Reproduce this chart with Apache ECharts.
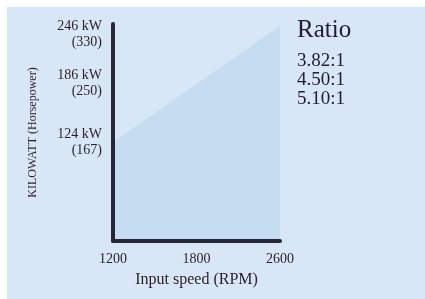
<!DOCTYPE html>
<html>
<head>
<meta charset="utf-8">
<script src="https://cdn.jsdelivr.net/npm/echarts@6/dist/echarts.min.js"></script>
<style>
    html, body { margin: 0; padding: 0; background: #fff; }
    #chart { width: 425px; height: 299px; }
</style>
</head>
<body>
<div id="chart"></div>
<script>
// Input speed categories (RPM)
const speeds = ['1200', '1800', '2600'];
// Upper edge of the shaded power band (kW)
const powerKw = [124, 185, 246];
// Y axis tick values and their labels
const kwTicks = [124, 186, 246];
const hpTicks = [167, 250, 330];
// Ratio list
const ratios = ['3.82:1', '4.50:1', '5.10:1'];

const serif = '"Liberation Serif", "DejaVu Serif", serif';
const ink = '#2b1d29';

const chart = echarts.init(document.getElementById('chart'));

chart.setOption({
    backgroundColor: '#ffffff',
    animation: false,
    graphic: [{
        type: 'rect',
        z: -10,
        shape: { x: 7, y: 7, width: 418, height: 292 },
        style: { fill: '#d8e7f6' },
    }],
    title: {
        text: 'Ratio',
        subtext: ratios.join('\n'),
        left: 297,
        top: 18,
        padding: 0,
        itemGap: 9,
        textStyle: {
            fontFamily: serif,
            fontSize: 25,
            fontWeight: 'normal',
            color: '#222030',
        },
        subtextStyle: {
            fontFamily: serif,
            fontSize: 19,
            lineHeight: 19,
            color: '#222030',
        },
    },
    grid: {
        left: 113,
        right: 145,
        top: 24,
        bottom: 58,
    },
    xAxis: {
        type: 'category',
        data: speeds,
        boundaryGap: false,
        z: 5,
        name: 'Input speed (RPM)',
        nameLocation: 'middle',
        nameGap: 31,
        nameTextStyle: {
            fontFamily: serif,
            fontSize: 16,
            color: ink,
        },
        axisLine: {
            lineStyle: { color: '#262636', width: 4 },
        },
        axisTick: { show: false },
        axisLabel: {
            fontFamily: serif,
            fontSize: 14,
            color: ink,
            margin: 11,
        },
        splitLine: { show: false },
    },
    yAxis: {
        type: 'value',
        min: 20,
        max: 248,
        z: 5,
        name: 'KILOWATT (Horsepower)',
        nameLocation: 'middle',
        nameGap: 74,
        nameRotate: 90,
        nameTextStyle: {
            fontFamily: serif,
            fontSize: 12,
            color: ink,
        },
        axisLine: {
            show: true,
            lineStyle: { color: '#262636', width: 4 },
        },
        axisTick: { show: false },
        splitLine: { show: false },
        axisLabel: {
            customValues: kwTicks,
            fontFamily: serif,
            fontSize: 14,
            lineHeight: 16,
            color: ink,
            margin: 11,
            formatter: (value) => {
                const i = kwTicks.indexOf(value);
                if (i < 0) return '';
                const text = `${kwTicks[i]} kW\n(${hpTicks[i]})`;
                // top label sits below its tick in the original
                return i === kwTicks.length - 1 ? '\n' + text : text;
            },
        },
    },
    series: [{
        type: 'line',
        data: powerKw,
        symbol: 'none',
        lineStyle: { width: 0 },
        areaStyle: {
            origin: 'start',
            color: '#c6dcf1',
            opacity: 1,
        },
        z: 1,
    }],
});
</script>
</body>
</html>
